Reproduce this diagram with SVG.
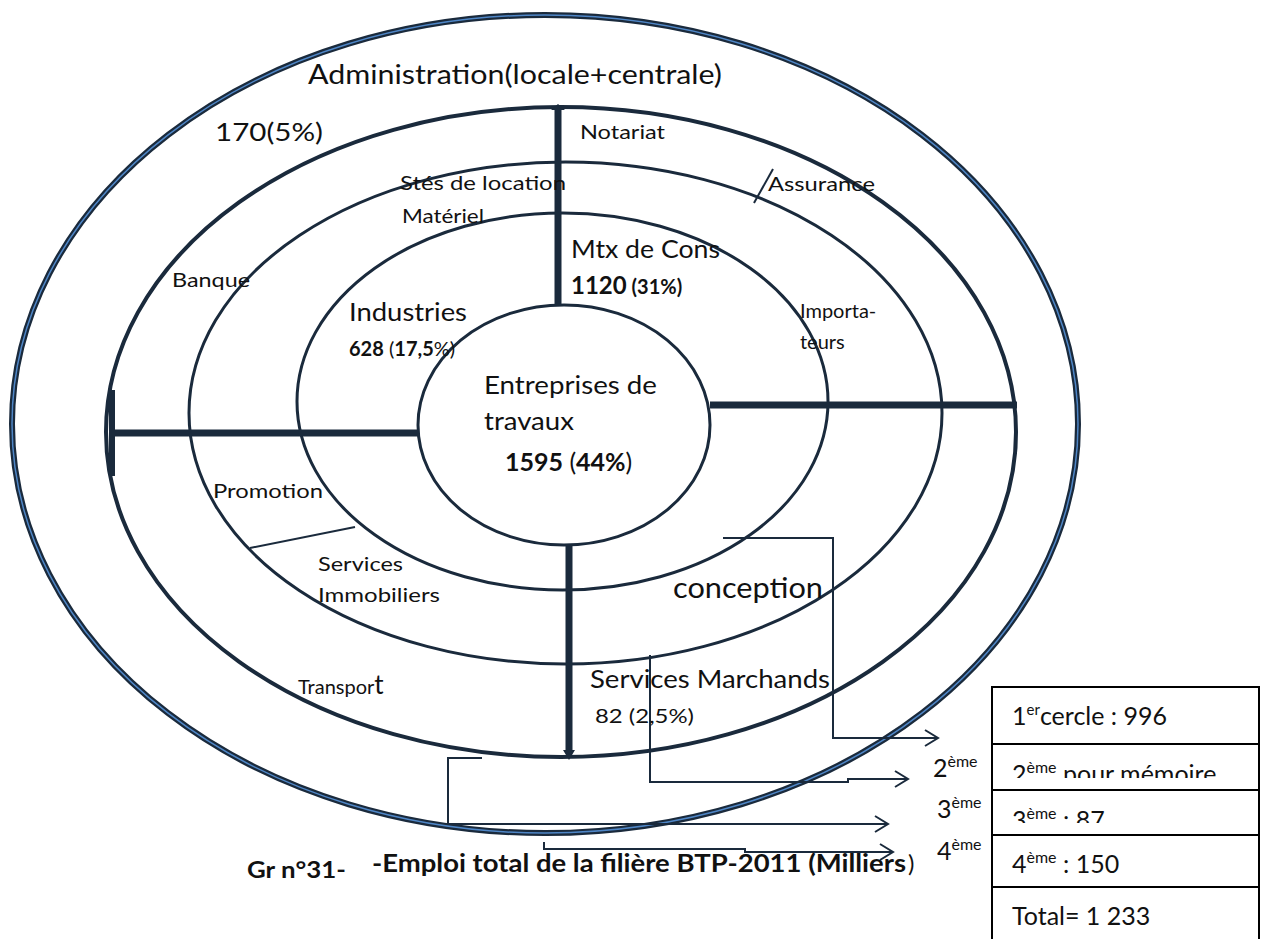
<svg xmlns="http://www.w3.org/2000/svg" width="1269" height="939" viewBox="0 0 1269 939">
<style>
.ring{fill:none;stroke:#1a2a3c;stroke-width:3}
.ring2{fill:none;stroke:#1a2a3c;stroke-width:4}
.bar{stroke:#1a2a3c;stroke-width:7;fill:none}
.thin{stroke:#1a2a3c;stroke-width:2;fill:none}
.con{stroke:#1a2a3c;stroke-width:2;fill:none}
text{font-family:Lato,"Liberation Sans",sans-serif;fill:#111}
.s{font-size:20px}
.m{font-size:25px}
.b{font-weight:bold}
.cell{fill:#fff;stroke:#000;stroke-width:2}
</style>
<defs>
<marker id="arr" markerUnits="userSpaceOnUse" markerWidth="16" markerHeight="18" refX="14" refY="9" orient="auto">
<path d="M1,1 L14,9 L1,17" fill="none" stroke="#1a2a3c" stroke-width="2"/>
</marker>
<clipPath id="c2"><rect x="992" y="744" width="267" height="34"/></clipPath>
<clipPath id="c3"><rect x="992" y="790" width="267" height="33"/></clipPath>
</defs>
<rect width="1269" height="939" fill="#fff"/>

<g id="ring-administration">
<ellipse cx="545" cy="424" rx="533" ry="409" fill="none" stroke="#1a2a3c" stroke-width="6"/>
<ellipse cx="545" cy="424" rx="533" ry="409" fill="none" stroke="#4f86c6" stroke-width="1.5"/>
</g>
<g id="ring-4"><ellipse class="ring2" cx="561" cy="432" rx="455" ry="325"/></g>
<g id="ring-3"><ellipse class="ring" cx="565.5" cy="413" rx="376.5" ry="251"/></g>
<g id="ring-2"><ellipse class="ring" cx="562.5" cy="401.5" rx="265.5" ry="188.5"/></g>
<g id="core"><ellipse class="ring" cx="564" cy="425" rx="146" ry="120"/></g>

<g id="dividers">
<line class="bar" x1="558" y1="108" x2="558" y2="305"/>
<path d="M551,110 L565,110 L558,104 Z" fill="#1a2a3c"/>
<line class="bar" x1="710" y1="405" x2="1017" y2="405"/>
<line class="bar" x1="418" y1="433" x2="112" y2="433"/>
<line x1="112" y1="390" x2="112" y2="476" stroke="#1a2a3c" stroke-width="6"/>
<line class="bar" x1="569" y1="545" x2="569" y2="752"/>
<path d="M563,750 L575,750 L569,760 Z" fill="#1a2a3c"/>
<line class="thin" x1="773" y1="169" x2="754" y2="203"/>
<line class="thin" x1="250" y1="548" x2="355" y2="527"/>
</g>

<g id="connectors">
<polyline class="con" points="723,538 833,538 833,738 938,738" marker-end="url(#arr)"/>
<polyline class="con" points="650,655 650,782 848,782 848,779 908,779" marker-end="url(#arr)"/>
<polyline class="con" points="482,758 448,758 448,824 888,824" marker-end="url(#arr)"/>
<polyline class="con" points="544,842 544,849 745,849 745,852 893,852" marker-end="url(#arr)"/>
</g>

<g id="labels">
<text x="308" y="84" style="font-size:27px" textLength="414" lengthAdjust="spacingAndGlyphs">Administration(locale+centrale)</text>
<text class="m" x="215" y="141" textLength="108" lengthAdjust="spacingAndGlyphs">170(5%)</text>
<text class="s" x="580" y="139" textLength="85" lengthAdjust="spacingAndGlyphs">Notariat</text>
<text class="s" x="400" y="190" textLength="166" lengthAdjust="spacingAndGlyphs">Stés de location</text>
<text class="s" x="402" y="223" textLength="82" lengthAdjust="spacingAndGlyphs">Matériel</text>
<text class="s" x="768" y="191" textLength="107" lengthAdjust="spacingAndGlyphs">Assurance</text>
<text class="s" x="172" y="287" textLength="78" lengthAdjust="spacingAndGlyphs">Banque</text>
<text class="m" x="571" y="258" textLength="149" lengthAdjust="spacingAndGlyphs">Mtx de Cons</text>
<text x="571" y="294" class="b"><tspan style="font-size:24px">1120</tspan><tspan style="font-size:20px"> (31%)</tspan></text>
<text class="m" x="349" y="321" textLength="118" lengthAdjust="spacingAndGlyphs">Industries</text>
<text class="s" x="349" y="356"><tspan class="b">628</tspan> (<tspan class="b">17,5</tspan>%)</text>
<text class="s" x="800" y="318">Importa-</text>
<text class="s" x="800" y="349">teurs</text>
<text class="m" x="484" y="394" textLength="173" lengthAdjust="spacingAndGlyphs">Entreprises de</text>
<text class="m" x="484" y="430" textLength="90" lengthAdjust="spacingAndGlyphs">travaux</text>
<text class="m" x="505" y="471"><tspan class="b">1595</tspan> (<tspan class="b">44%</tspan>)</text>
<text class="s" x="213" y="498" textLength="110" lengthAdjust="spacingAndGlyphs">Promotion</text>
<text class="s" x="318" y="571" textLength="85" lengthAdjust="spacingAndGlyphs">Services</text>
<text class="s" x="318" y="602" textLength="122" lengthAdjust="spacingAndGlyphs">Immobiliers</text>
<text x="673" y="598" style="font-size:28px" textLength="150" lengthAdjust="spacingAndGlyphs">conception</text>
<text class="s" x="298" y="694">Transpor<tspan style="font-size:26px">t</tspan></text>
<text class="m" x="590" y="688" textLength="240" lengthAdjust="spacingAndGlyphs">Services Marchands</text>
<text class="s" x="595" y="723" textLength="99" lengthAdjust="spacingAndGlyphs">82 (2,5%)</text>
</g>

<g id="caption">
<text class="b" x="247" y="878" style="font-size:22px" textLength="99" lengthAdjust="spacingAndGlyphs">Gr n°31-</text>
<text class="b" x="372" y="872" style="font-size:24px" textLength="534" lengthAdjust="spacingAndGlyphs">-Emploi total de la filière BTP-2011 (Milliers</text>
<text x="908" y="872" style="font-size:24px">)</text>
</g>

<g id="ranks">
<text class="m" x="933" y="777">2<tspan style="font-size:16px" dy="-10">ème</tspan></text>
<text class="m" x="937" y="818">3<tspan style="font-size:16px" dy="-10">ème</tspan></text>
<text class="m" x="937" y="860">4<tspan style="font-size:16px" dy="-10">ème</tspan></text>
</g>

<g id="table">
<rect class="cell" x="992" y="687" width="267" height="57"/>
<rect class="cell" x="992" y="744" width="267" height="46"/>
<rect class="cell" x="992" y="790" width="267" height="45"/>
<rect class="cell" x="992" y="835" width="267" height="52"/>
<path d="M992,887 H1259 M992,887 V945 M1259,887 V945" stroke="#000" stroke-width="2" fill="#fff"/>
<text class="m" x="1012" y="725">1<tspan style="font-size:15px" dy="-10">er</tspan><tspan dy="10">cercle : 996</tspan></text>
<g clip-path="url(#c2)"><text class="m" x="1012" y="783">2<tspan style="font-size:16px" dy="-10">ème</tspan><tspan dy="10"> pour mémoire</tspan></text></g>
<g clip-path="url(#c3)"><text class="m" x="1012" y="829">3<tspan style="font-size:16px" dy="-10">ème</tspan><tspan dy="10"> : 87</tspan></text></g>
<text class="m" x="1012" y="873">4<tspan style="font-size:16px" dy="-10">ème</tspan><tspan dy="10"> : 150</tspan></text>
<text class="m" x="1012" y="925">Total= 1 233</text>
</g>
</svg>
